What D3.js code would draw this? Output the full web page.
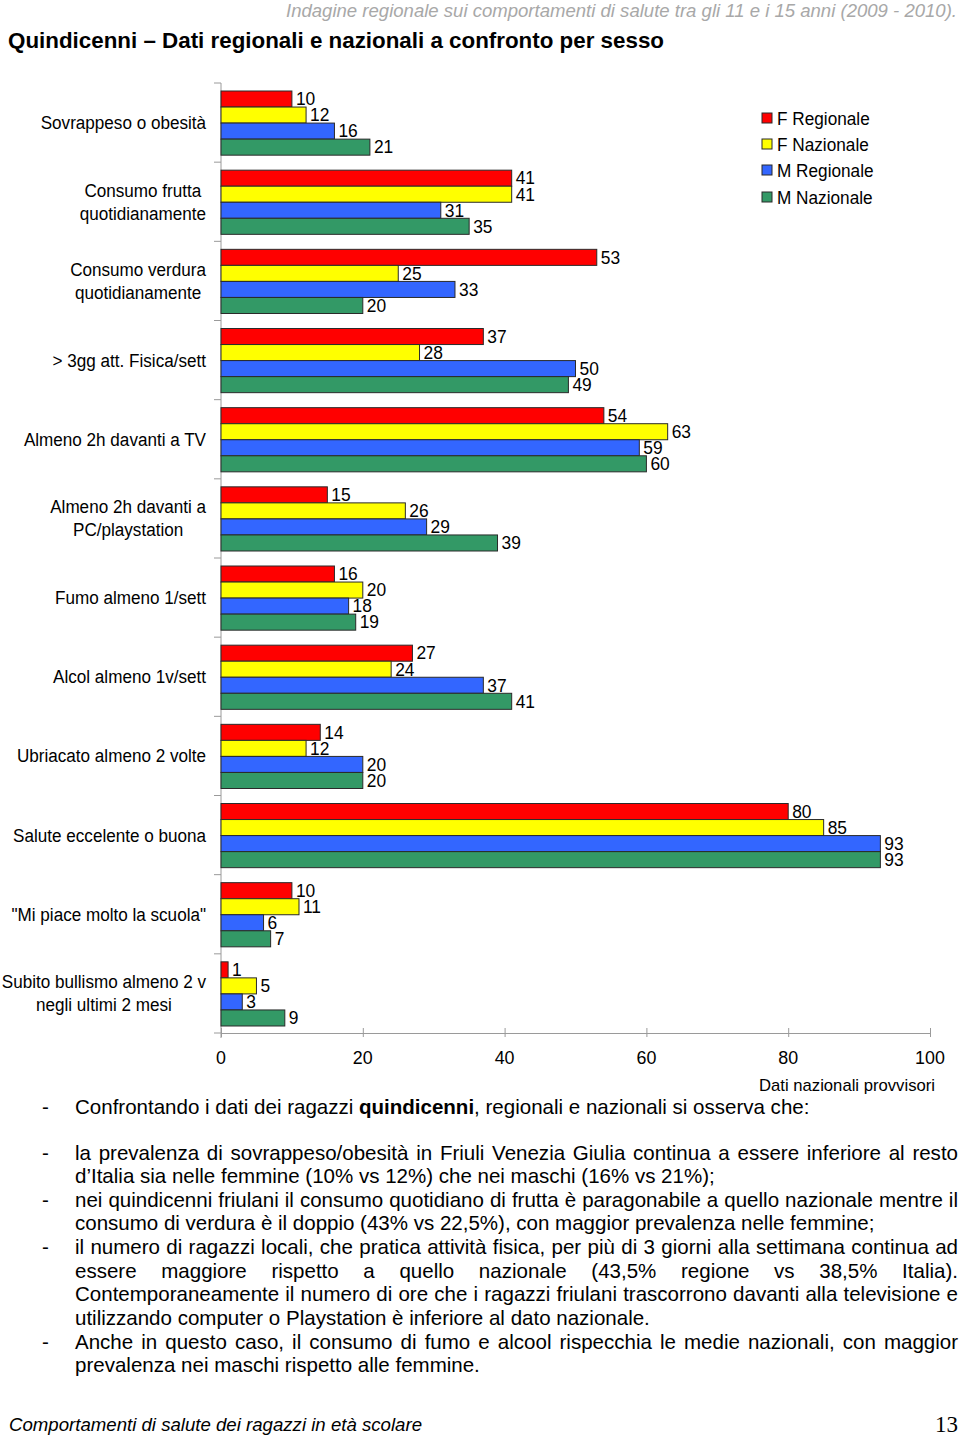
<!DOCTYPE html>
<html>
<head>
<meta charset="utf-8">
<script src="https://cdn.jsdelivr.net/npm/d3@7"></script>
<style>
  html, body { margin: 0; padding: 0; background: #fff; }
  svg { display: block; font-family: "Liberation Sans", Arial, sans-serif; }
</style>
</head>
<body>
<svg id="page" width="960" height="1436"></svg>
<script>
// ---------- DATA ----------
const categories = [
  "Sovrappeso o obesità",
  "Consumo frutta|quotidianamente",
  "Consumo verdura|quotidianamente",
  "> 3gg att. Fisica/sett",
  "Almeno 2h davanti a TV",
  "Almeno 2h davanti a|PC/playstation",
  "Fumo almeno 1/sett",
  "Alcol almeno 1v/sett",
  "Ubriacato almeno 2 volte",
  "Salute eccelente o buona",
  "\"Mi piace molto la scuola\"",
  "Subito bullismo almeno 2 v|negli ultimi 2 mesi"
];
const seriesNames = ["F Regionale", "F Nazionale", "M Regionale", "M Nazionale"];
const fRegionale = [10, 41, 53, 37, 54, 15, 16, 27, 14, 80, 10, 1];
const fNazionale = [12, 41, 25, 28, 63, 26, 20, 24, 12, 85, 11, 5];
const mRegionale = [16, 31, 33, 50, 59, 29, 18, 37, 20, 93, 6, 3];
const mNazionale = [21, 35, 20, 49, 60, 39, 19, 41, 20, 93, 7, 9];
const xTicks = [0, 20, 40, 60, 80, 100];
const seriesColors = ["#FF0000", "#FFFF00", "#3366FF", "#339966"];

const headerText = "Indagine regionale sui comportamenti di salute tra gli 11 e i 15 anni (2009 - 2010).";
const titleText = "Quindicenni \u2013 Dati regionali e nazionali a confronto per sesso";
const noteText = "Dati nazionali provvisori";
const footerText = "Comportamenti di salute dei ragazzi in età scolare";
const pageNumber = "13";
// paragraph lines: [dash?, justified?, segments]
const paragraphLines = [
  [true, false, [["Confrontando i dati dei ragazzi ", false], ["quindicenni", true], [", regionali e nazionali si osserva che:", false]]],
  [true, true, [["la prevalenza di sovrappeso/obesità in Friuli Venezia Giulia continua a essere inferiore al resto", false]]],
  [false, false, [["d\u2019Italia sia nelle femmine (10% vs 12%) che nei maschi (16% vs 21%);", false]]],
  [true, true, [["nei quindicenni friulani il consumo quotidiano di frutta è paragonabile a quello nazionale mentre il", false]]],
  [false, false, [["consumo di verdura è il doppio (43% vs 22,5%), con maggior prevalenza nelle femmine;", false]]],
  [true, true, [["il numero di ragazzi locali, che pratica attività fisica, per più di 3 giorni alla settimana continua ad", false]]],
  [false, true, [["essere maggiore rispetto a quello nazionale (43,5% regione vs 38,5% Italia).", false]]],
  [false, true, [["Contemporaneamente il numero di ore che i ragazzi friulani trascorrono davanti alla televisione e", false]]],
  [false, false, [["utilizzando computer o Playstation è inferiore al dato nazionale.", false]]],
  [true, true, [["Anche in questo caso, il consumo di fumo e alcool rispecchia le medie nazionali, con maggior", false]]],
  [false, false, [["prevalenza nei maschi rispetto alle femmine.", false]]]
];

// ---------- SETUP ----------
const svg = d3.select("#page");
const seriesData = [fRegionale, fNazionale, mRegionale, mNazionale];
const rows = categories.map((c, i) => ({ cat: c, vals: seriesData.map((s, k) => ({ k, v: s[i] })) }));

const x = d3.scaleLinear().domain([0, 100]).range([221, 930]);
const y0 = d3.scaleBand().domain(categories).range([83, 1033]);
const y1 = d3.scaleBand().domain(d3.range(4)).range([8, y0.bandwidth() - 7]);

function stext(g, x, y, str, size, sx, opts = {}) {
  const t = g.append("text")
    .attr("transform", `translate(${x},${y}) scale(${sx},1)`)
    .attr("font-size", size)
    .attr("fill", opts.fill || "#000")
    .attr("text-anchor", opts.anchor || "start")
    .text(str);
  if (opts.weight) t.attr("font-weight", opts.weight);
  if (opts.style) t.attr("font-style", opts.style);
  if (opts.family) t.attr("font-family", opts.family);
  return t;
}

// ---------- HEADER / TITLE ----------
svg.append("text").attr("x", 957).attr("y", 17).attr("text-anchor", "end")
  .attr("font-size", 18.5).attr("font-style", "italic").attr("fill", "#a8a8a8")
  .attr("textLength", 671).attr("lengthAdjust", "spacingAndGlyphs").text(headerText);
svg.append("text").attr("x", 8).attr("y", 48)
  .attr("font-size", 21.5).attr("font-weight", "bold").attr("fill", "#000")
  .attr("textLength", 656).attr("lengthAdjust", "spacingAndGlyphs").text(titleText);

// ---------- AXES ----------
const axisColor = "#9a9a9a";
const chart = svg.append("g");
// y axis line
chart.append("line").attr("x1", x(0)).attr("x2", x(0)).attr("y1", 83).attr("y2", 1038)
  .attr("stroke", axisColor).attr("stroke-width", 1);
// y ticks at band boundaries
const boundaries = categories.map(c => y0(c)).concat([y0.range()[1]]);
chart.selectAll("line.yt").data(boundaries).enter().append("line")
  .attr("x1", x(0) - 7).attr("x2", x(0)).attr("y1", d => d).attr("y2", d => d)
  .attr("stroke", axisColor);
// x axis via d3 axis
const xAxis = d3.axisBottom(x).tickValues(xTicks).tickSize(0).tickFormat(d3.format("d"));
const xg = chart.append("g").attr("transform", "translate(0,1033)").call(xAxis);
xg.select(".domain").attr("stroke", axisColor);
xg.selectAll(".tick text").remove();
xg.selectAll(".tick").append("line").attr("y1", -5).attr("y2", 4).attr("stroke", axisColor);
xTicks.forEach(t => stext(chart, x(t), 1064, String(t), 19, 0.94, { anchor: "middle" }));

// ---------- BARS ----------
const groups = chart.selectAll("g.grp").data(rows).enter().append("g")
  .attr("transform", d => `translate(0,${y0(d.cat)})`);
groups.selectAll("rect").data(d => d.vals).enter().append("rect")
  .attr("x", x(0)).attr("y", d => y1(d.k))
  .attr("width", d => x(d.v) - x(0)).attr("height", y1.bandwidth())
  .attr("fill", d => seriesColors[d.k]).attr("stroke", "#2a2a2a").attr("stroke-width", 1);
groups.each(function (d) {
  const g = d3.select(this);
  d.vals.forEach(v => {
    stext(g, x(v.v) + 4, y1(v.k) + y1.bandwidth() / 2 + 6.3, String(v.v), 18.5, 0.94);
  });
});

// ---------- CATEGORY LABELS ----------
const catSx = 0.9, catSize = 19;
categories.forEach(c => {
  const lines = c.split("|");
  const mid = y0(c) + y0.bandwidth() / 2;
  if (lines.length === 1) {
    stext(chart, 206, mid + 6.5, lines[0], catSize, catSx, { anchor: "end" });
  } else {
    // centered block, right edge of widest line at 206
    const tmp = lines.map(l => stext(chart, 0, 0, l, catSize, catSx));
    const w = d3.max(tmp.map(t => t.node().getComputedTextLength())) * catSx;
    tmp.forEach(t => t.remove());
    const cx = 206 - w / 2;
    lines.forEach((l, i) => {
      const yy = mid + (i - (lines.length - 1) / 2) * 23 + 6.5;
      stext(chart, cx, yy, l, catSize, catSx, { anchor: "middle" });
    });
  }
});

// ---------- LEGEND ----------
const legY = [118, 144, 170, 197];
seriesNames.forEach((n, i) => {
  svg.append("rect").attr("x", 762).attr("y", legY[i] - 5).attr("width", 10).attr("height", 10)
    .attr("fill", seriesColors[i]).attr("stroke", "#2a2a2a").attr("stroke-width", 1);
  stext(svg, 777, legY[i] + 6.5, n, 18.5, 0.93);
});

// ---------- NOTE ----------
svg.append("text").attr("x", 935).attr("y", 1091).attr("text-anchor", "end")
  .attr("font-size", 17).attr("textLength", 176).attr("lengthAdjust", "spacingAndGlyphs").text(noteText);

// ---------- PARAGRAPH ----------
const pSize = 20.5;
const baselines = [1114, 1160, 1183, 1207, 1230, 1254, 1278, 1301, 1325, 1349, 1372];
const pText = svg.append("g");
function buildLine(segs, xx, yy, sx) {
  const t = pText.append("text").attr("transform", `translate(${xx},${yy}) scale(${sx},1)`)
    .attr("font-size", pSize).attr("fill", "#000");
  segs.forEach(s => {
    const ts = t.append("tspan").text(s[0]);
    if (s[1]) ts.attr("font-weight", "bold");
  });
  return t;
}
// compute horizontal compression from the first line (735 px wide in the reference)
const probe = buildLine(paragraphLines[0][2], 0, -100, 1);
const pSx = 735 / probe.node().getComputedTextLength();
probe.remove();
paragraphLines.forEach((ln, i) => {
  const [dash, just, segs] = ln;
  if (dash) stext(pText, 42, baselines[i], "-", pSize, pSx);
  const t = buildLine(segs, 75, baselines[i], pSx);
  if (just) {
    const w = t.node().getComputedTextLength();
    const full = segs.map(s => s[0]).join("");
    const nSp = (full.match(/ /g) || []).length;
    const extra = (883 / pSx - w) / nSp;
    t.style("word-spacing", extra + "px");
  }
});

// ---------- FOOTER ----------
svg.append("text").attr("x", 9).attr("y", 1431).attr("font-size", 19).attr("font-style", "italic")
  .attr("textLength", 413).attr("lengthAdjust", "spacingAndGlyphs").text(footerText);
svg.append("text").attr("x", 958).attr("y", 1432).attr("text-anchor", "end")
  .attr("font-size", 23).attr("font-family", "'Liberation Serif', 'Times New Roman', serif").text(pageNumber);
</script>
</body>
</html>
